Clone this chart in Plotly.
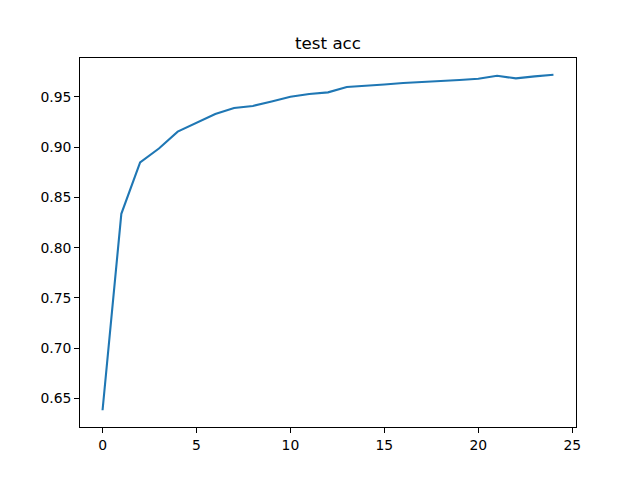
import plotly.graph_objects as go

epochs = list(range(25))
test_acc = [0.6384, 0.8336, 0.8848, 0.8985, 0.9153, 0.9239, 0.9328, 0.9388, 0.9408,
            0.9453, 0.9500, 0.9527, 0.9543, 0.9596, 0.9606, 0.9622, 0.9636, 0.9649,
            0.9656, 0.9666, 0.9679, 0.9708, 0.9682, 0.9702, 0.9718]
x_ticks = [0, 5, 10, 15, 20, 25]
y_ticks = [0.65, 0.70, 0.75, 0.80, 0.85, 0.90, 0.95]

fig = go.Figure(go.Scatter(x=epochs, y=test_acc, mode="lines",
                           line=dict(color="#1f77b4", width=2.1)))

ymin, ymax = min(test_acc), max(test_acc)
pad = (ymax - ymin) * 0.05
axis_common = dict(showgrid=False, zeroline=False, showline=True, linecolor="black",
                   linewidth=1, mirror=True, ticks="outside", ticklen=4.9,
                   tickcolor="black", tickwidth=1, automargin=False,
                   tickfont=dict(family="DejaVu Sans", size=13.9, color="black"))
# page body has an 8px default margin, so the figure is sized/offset to compensate
fig.update_layout(
    template="none",
    width=632, height=472,
    margin=dict(l=72, r=64, t=50, b=53, autoexpand=False),
    paper_bgcolor="white", plot_bgcolor="white",
    showlegend=False,
    title=dict(text="test acc", x=(80 + 576) / 2 / 632 - 8 / 632, xanchor="center",
               y=1 - 35 / 472, yanchor="middle",
               font=dict(family="DejaVu Sans", size=16.7, color="black")),
    xaxis=dict(range=[-1.2, 25.2], tickvals=x_ticks, ticktext=[str(t) for t in x_ticks], **axis_common),
    yaxis=dict(range=[ymin - pad, ymax + pad], tickvals=y_ticks,
               ticktext=[f"{t:.2f}" for t in y_ticks], **axis_common),
)
fig.write_html("out.html")
